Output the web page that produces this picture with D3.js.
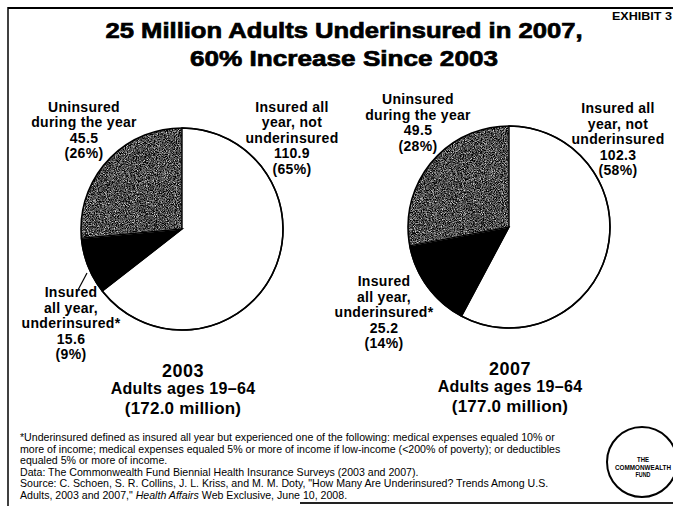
<!DOCTYPE html>
<html>
<head>
<meta charset="utf-8">
<script src="https://cdn.jsdelivr.net/npm/d3@7/dist/d3.min.js"></script>
<style>
  html, body { margin: 0; padding: 0; background: #fff; }
  svg { display: block; }
  text { font-family: "Liberation Sans", Arial, Helvetica, sans-serif; fill: #000; }
</style>
</head>
<body>
<svg id="chart" width="673" height="506"></svg>
<script>
// ---- data ----
const years = ["2003", "2007"];
const categories = [
  "Insured all year, not underinsured",
  "Insured all year, underinsured*",
  "Uninsured during the year"
];
// how each category label wraps over lines
const categoryLines = [
  ["Insured all", "year, not", "underinsured"],
  ["Insured", "all year,", "underinsured*"],
  ["Uninsured", "during the year"]
];
const values2003 = [110.9, 15.6, 45.5];   // millions of adults
const values2007 = [102.3, 25.2, 49.5];
const percents2003 = [65, 9, 26];
const percents2007 = [58, 14, 28];
const totals = [172.0, 177.0];            // millions of adults 19-64
const subtitle = "Adults ages 19–64";
const titleLines = ["25 Million Adults Underinsured in 2007,", "60% Increase Since 2003"];
const footnotes = [
  "*Underinsured defined as insured all year but experienced one of the following: medical expenses equaled 10% or",
  "more of income; medical expenses equaled 5% or more of income if low-income (<200% of poverty); or deductibles",
  "equaled 5% or more of income.",
  "Data: The Commonwealth Fund Biennial Health Insurance Surveys (2003 and 2007).",
  "Source: C. Schoen, S. R. Collins, J. L. Kriss, and M. M. Doty, \"How Many Are Underinsured? Trends Among U.S."
];
const lastFootnote = ["Adults, 2003 and 2007,\" ", "Health Affairs", " Web Exclusive, June 10, 2008."];

const seriesByYear = [values2003, values2007];
const percentsByYear = [percents2003, percents2007];

// ---- layout ----
const svg = d3.select("#chart");
const W = 673, H = 506;
const sliceFill = ["#ffffff", "#000000", "#555555"];

const defs = svg.append("defs");
// grainy halftone texture for the uninsured slice
const grain = defs.append("filter").attr("id", "grain")
  .attr("x", 0).attr("y", 0).attr("width", 1).attr("height", 1)
  .attr("color-interpolation-filters", "sRGB");
grain.append("feTurbulence").attr("type", "fractalNoise")
  .attr("baseFrequency", 1.1).attr("numOctaves", 3).attr("seed", 7).attr("result", "noise");
grain.append("feColorMatrix").attr("in", "noise").attr("type", "matrix")
  .attr("values", "0.34 0.33 0.33 0 0  0.34 0.33 0.33 0 0  0.34 0.33 0.33 0 0  0 0 0 0 1")
  .attr("result", "gray");
const ct = grain.append("feComponentTransfer").attr("in", "gray").attr("result", "tone");
["feFuncR", "feFuncG", "feFuncB"].forEach(f =>
  ct.append(f).attr("type", "linear").attr("slope", 3.0).attr("intercept", -1.2));
ct.append("feFuncA").attr("type", "linear").attr("slope", 0).attr("intercept", 1);
grain.append("feComposite").attr("in", "tone").attr("in2", "SourceGraphic").attr("operator", "in");

svg.append("rect").attr("width", W).attr("height", H).attr("fill", "#fff");

// frame
svg.append("line").attr("x1", 8).attr("x2", W).attr("y1", 8).attr("y2", 8)
  .attr("stroke", "#000").attr("stroke-width", 2);
svg.append("line").attr("x1", 8).attr("x2", 8).attr("y1", 7).attr("y2", H)
  .attr("stroke", "#000").attr("stroke-width", 1.5);
svg.append("line").attr("x1", 300).attr("x2", W).attr("y1", 503).attr("y2", 503)
  .attr("stroke", "#222").attr("stroke-width", 2);

// title
const titleWidths = [477, 308];
titleLines.forEach((t, i) => {
  svg.append("text")
    .attr("x", 344).attr("y", 38 + i * 28)
    .attr("text-anchor", "middle")
    .attr("font-size", 22).attr("font-weight", "bold")
    .attr("stroke", "#000").attr("stroke-width", 0.7)
    .attr("textLength", titleWidths[i]).attr("lengthAdjust", "spacingAndGlyphs")
    .text(t);
});
svg.append("text").attr("x", 672).attr("y", 19.5).attr("text-anchor", "end")
  .attr("font-size", 10).attr("font-weight", "bold")
  .attr("textLength", 60).attr("lengthAdjust", "spacingAndGlyphs")
  .text("EXHIBIT 3");

// pies
const pies = [
  { cx: 182, cy: 229, r: 101,
    labels: [ { x: 292, y: 111.5 }, { x: 71, y: 297 }, { x: 84, y: 111.5 } ],
    caption: { x: 183, y: 377 }, leader: true },
  { cx: 509, cy: 227, r: 101,
    labels: [ { x: 618, y: 113 }, { x: 384, y: 286 }, { x: 418, y: 104 } ],
    caption: { x: 510, y: 375 }, leader: false }
];

const pieGen = d3.pie().sort(null).value(d => d);
const arcGen = d3.arc().innerRadius(0);
const fmt = d3.format(".1f");
const lineH = 15.5;

years.forEach((yr, yi) => {
  const p = pies[yi];
  const arcs = pieGen(seriesByYear[yi]);
  const g = svg.append("g").attr("transform", `translate(${p.cx},${p.cy})`);
  arcGen.outerRadius(p.r);

  g.selectAll("path.slice").data(arcs).join("path")
    .attr("class", "slice")
    .attr("d", arcGen)
    .attr("fill", (d, i) => sliceFill[i])
    .attr("filter", (d, i) => i === 2 ? "url(#grain)" : null);

  // light seam between the textured and black slices
  g.append("path")
    .attr("d", d3.arc().innerRadius(0).outerRadius(p.r)
      .startAngle(arcs[2].startAngle).endAngle(arcs[2].startAngle)())
    .attr("stroke", "#ddd").attr("stroke-width", 1.2).attr("fill", "none");

  g.selectAll("path.edge").data(arcs).join("path")
    .attr("class", "edge")
    .attr("d", arcGen)
    .attr("fill", "none")
    .attr("stroke", (d, i) => i === 2 ? "none" : "#000")
    .attr("stroke-width", 1.4);
  g.append("circle").attr("r", p.r).attr("fill", "none")
    .attr("stroke", "#000").attr("stroke-width", 1.6);

  // slice labels
  categories.forEach((c, ci) => {
    const lines = categoryLines[ci].concat([fmt(seriesByYear[yi][ci]), `(${percentsByYear[yi][ci]}%)`]);
    const lp = p.labels[ci];
    const t = svg.append("text")
      .attr("text-anchor", "middle")
      .attr("font-size", 14).attr("font-weight", "bold")
      .attr("letter-spacing", 0.3);
    lines.forEach((ln, li) => {
      t.append("tspan").attr("x", lp.x).attr("y", lp.y + li * lineH).text(ln);
    });
  });

  if (p.leader) {
    svg.append("line")
      .attr("x1", 87).attr("y1", 273).attr("x2", 78).attr("y2", 290)
      .attr("stroke", "#000").attr("stroke-width", 1.2);
  }

  // caption under each pie
  svg.append("text").attr("x", p.caption.x).attr("y", p.caption.y)
    .attr("text-anchor", "middle").attr("font-size", 18).attr("font-weight", "bold")
    .attr("letter-spacing", 0.5)
    .text(yr);
  svg.append("text").attr("x", p.caption.x).attr("y", p.caption.y + 17)
    .attr("text-anchor", "middle").attr("font-size", 16).attr("font-weight", "bold")
    .attr("letter-spacing", 0.3)
    .text(subtitle);
  svg.append("text").attr("x", p.caption.x).attr("y", p.caption.y + 37)
    .attr("text-anchor", "middle").attr("font-size", 17).attr("font-weight", "bold")
    .attr("letter-spacing", 0.2)
    .text(`(${fmt(totals[yi])} million)`);
});

// footnotes
const fnY0 = 441, fnStep = 11.6;
footnotes.forEach((f, i) => {
  svg.append("text").attr("x", 20).attr("y", fnY0 + i * fnStep)
    .attr("font-size", 10.6).text(f);
});
const last = svg.append("text").attr("x", 20).attr("y", fnY0 + 5 * fnStep).attr("font-size", 10.6);
lastFootnote.forEach((s, i) => {
  last.append("tspan").attr("font-style", i === 1 ? "italic" : null).text(s);
});

// Commonwealth Fund seal
const seal = svg.append("g").attr("transform", "translate(642,462)");
seal.append("circle").attr("r", 35).attr("fill", "#fff")
  .attr("stroke", "#000").attr("stroke-width", 2);
[["THE", 12], ["COMMONWEALTH", 56], ["FUND", 15]].forEach(([s, w], i) => {
  seal.append("text").attr("x", 1).attr("y", 0 + i * 7.5)
    .attr("text-anchor", "middle").attr("font-size", 6.5).attr("font-weight", "bold")
    .attr("textLength", w).attr("lengthAdjust", "spacingAndGlyphs")
    .text(s);
});
</script>
</body>
</html>
